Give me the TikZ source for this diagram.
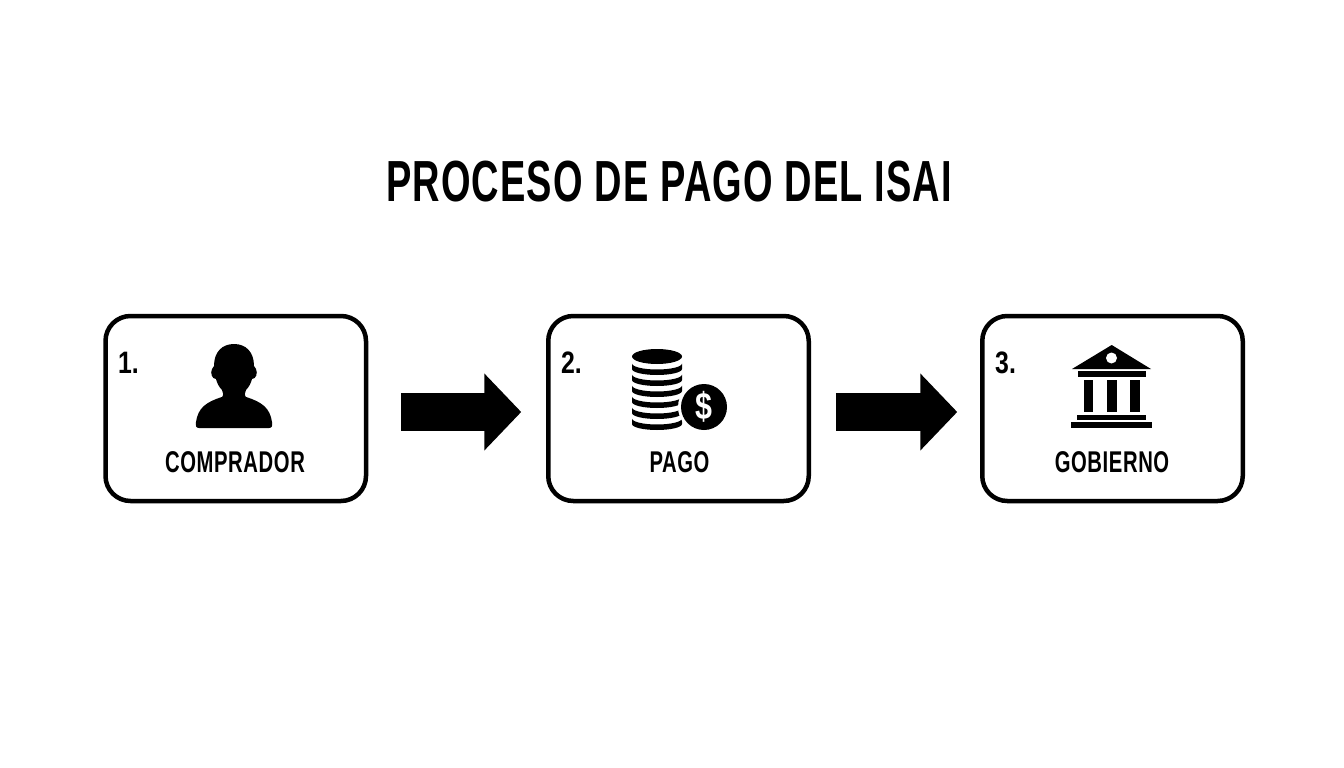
\documentclass[tikz,border=0pt]{standalone}
\usepackage{fontspec}
\setmainfont{Liberation Sans}
\newfontfamily\condtitle[FakeStretch=0.655,LetterSpace=2]{Liberation Sans Bold}
\newfontfamily\condlabel[FakeStretch=0.675,LetterSpace=2]{Liberation Sans Bold}
\newfontfamily\condnum[FakeStretch=0.8]{Liberation Sans Bold}
\usetikzlibrary{arrows.meta,calc}
\tikzset{
  stepbox/.style={draw=black,line width=4.5pt,rounded corners=25pt,minimum width=260.5pt,minimum height=185pt,outer sep=0pt,inner sep=0pt,fill=white},
  numlabel/.style={font=\condnum\fontsize{31}{31}\selectfont,anchor=base west,inner sep=0pt,text=black},
  boxlabel/.style={font=\condlabel\fontsize{30}{30}\selectfont,anchor=base,inner sep=0pt,text=black},
  blockarrow/.style={draw=black,line width=38pt,-{Triangle[length=37pt,width=75pt]}},
}
\begin{document}
\begin{tikzpicture}[x=1pt,y=-1pt]
\useasboundingbox (0,0) rectangle (1344,768);
\fill[white] (0,0) rectangle (1344,768);
\node[font=\condtitle\fontsize{58}{58}\selectfont,anchor=base,inner sep=0pt] (title) at (669,201) {PROCESO DE PAGO DEL ISAI};
\node[stepbox] (b1) at (235.75,408.5) {};
\node[stepbox] (b2) at (678.5,408.5) {};
\node[stepbox] (b3) at (1112.5,408.5) {};
\node[numlabel] (n1) at (118,373) {1.};
\node[numlabel] (n2) at (561,373) {2.};
\node[numlabel] (n3) at (995,373) {3.};
\node[boxlabel] (l1) at (235,472.5) {COMPRADOR};
\node[boxlabel] (l2) at (679.5,472.5) {PAGO};
\node[boxlabel] (l3) at (1112,472.5) {GOBIERNO};
% arrows
\coordinate (a1s) at ($(b1.east)+(35,3.5)$);
\coordinate (a1e) at ($(b2.west)+(-27,3.5)$);
\coordinate (a2s) at ($(b2.east)+(27,3.5)$);
\coordinate (a2e) at ($(b3.west)+(-25,3.5)$);
\draw[blockarrow] (a1s) -- (a1e);
\draw[blockarrow] (a2s) -- (a2e);
% person
\fill[black] (199,428) -- (269,428)
  .. controls (272,428) and (272.5,426) .. (272,422)
  .. controls (270,408) and (262,402) .. (246,397)
  .. controls (244.5,396) and (244.5,392) .. (246,390)
  .. controls (249,387) and (251,383) .. (252,379)
  .. controls (256,379) and (258,373) .. (256,369)
  .. controls (255.5,368) and (255,367) .. (254,366)
  .. controls (254,352) and (246,344) .. (234,344)
  .. controls (222,344) and (214,352) .. (214,366)
  .. controls (213,367) and (212.5,368) .. (212,369)
  .. controls (210,373) and (212,379) .. (216,379)
  .. controls (217,383) and (219,387) .. (222,390)
  .. controls (223.5,392) and (223.5,396) .. (222,397)
  .. controls (206,402) and (198,408) .. (196,422)
  .. controls (195.5,426) and (196,428) .. (199,428) -- cycle;
% coins
\fill[black] (657,356.5) ellipse [x radius=25,y radius=7.5];
\foreach \yb in {375,386,397,408,419,430}{
  \fill[black] (632,\yb-11.5) -- (632,\yb-6) arc[start angle=180,end angle=360,x radius=25,y radius=-6] -- (682,\yb-11.5) arc[start angle=360,end angle=180,x radius=25,y radius=-6] -- cycle;
}
\fill[white] (704,407) circle (26);
\fill[black] (704,407) circle (23);
\node[font=\condnum\fontsize{38}{38}\selectfont,text=white,inner sep=0pt] (dollar) at (704,407) {\$};
% bank
\fill[black] (1111.7,345) -- (1151,369) -- (1072,369) -- cycle;
\fill[white] (1111.5,358) circle (5.5);
\fill[black] (1078,371) rectangle (1146,377);
\fill[black] (1084,380) rectangle (1093.3,412);
\fill[black] (1107,380) rectangle (1116.7,412);
\fill[black] (1130.3,380) rectangle (1140,412);
\fill[black] (1077,414.7) rectangle (1146.3,420);
\fill[black] (1070.7,422.3) rectangle (1152.3,428.3);
\end{tikzpicture}
\end{document}
